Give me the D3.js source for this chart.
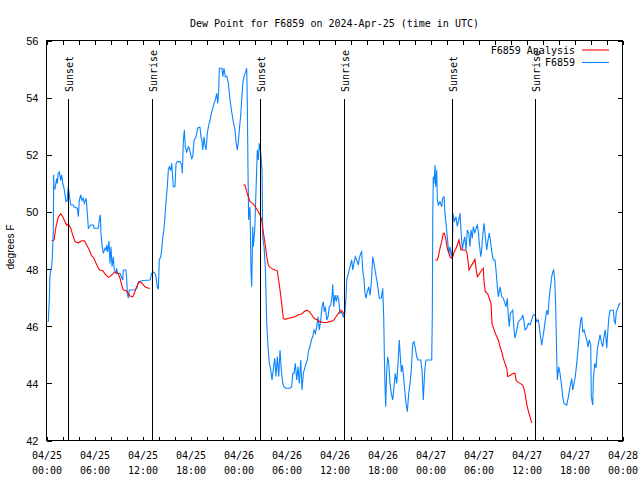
<!DOCTYPE html>
<html><head><meta charset="utf-8">
<script src="https://cdn.jsdelivr.net/npm/d3@7"></script>
<style>
html,body{margin:0;padding:0;background:#fff;}
svg{display:block;}
.mono{font-family:"DejaVu Sans Mono","Liberation Mono",monospace;font-size:10px;}
.sans{font-family:"Liberation Sans",Arial,sans-serif;}
</style></head>
<body>
<svg id="chart" width="640" height="480"></svg>
<script>
// ---- data (hours after 2024-04-25 00:00 UTC) ----
const title = "Dew Point for F6859 on 2024-Apr-25 (time in UTC)";
const yLabel = "degrees F";
const yTicks = [42, 44, 46, 48, 50, 52, 54, 56];
const seriesNames = ["F6859 Analysis", "F6859"];

const obsHours = [0.22,0.35,0.44,0.65,0.72,0.85,0.90,0.94,1.06,1.28,1.35,1.47,1.60,1.78,1.90,2.03,2.19,2.44,2.60,2.72,2.85,3.03,3.35,3.48,3.85,3.98,4.10,4.28,4.44,4.60,4.73,4.94,5.03,5.23,5.53,5.85,5.94,6.48,6.60,6.73,6.81,6.94,7.10,7.31,7.44,7.53,7.65,7.81,7.94,8.06,8.19,8.35,8.48,8.69,8.78,8.85,9.19,9.53,9.60,9.94,10.03,10.10,10.23,10.35,11.06,11.28,11.48,12.10,12.94,13.15,13.35,13.56,13.69,13.85,13.98,14.10,14.28,14.40,14.53,14.69,14.81,14.94,15.10,15.23,15.35,15.53,15.65,15.85,16.06,16.19,16.35,16.69,16.90,16.98,17.10,17.23,17.35,17.53,17.73,17.85,17.98,18.15,18.28,18.44,18.69,18.85,18.98,19.19,19.31,19.44,19.53,19.69,19.81,19.94,20.10,20.28,20.44,20.60,20.78,20.94,21.10,21.28,21.40,21.53,21.60,21.94,22.03,22.19,22.35,22.53,22.73,22.94,23.15,23.35,23.56,23.69,23.85,23.98,24.10,24.28,24.40,24.53,24.73,24.90,25.03,25.10,25.19,25.27,25.44,25.56,25.65,25.78,25.85,26.03,26.19,26.35,26.48,26.60,26.78,26.94,27.03,27.19,27.35,27.53,27.69,27.85,28.03,28.19,28.35,28.53,28.69,28.85,29.03,29.19,29.35,29.53,29.69,29.90,30.44,30.65,30.78,30.94,31.10,31.28,31.44,31.60,31.78,31.94,32.10,32.28,32.44,32.60,32.78,32.94,33.10,33.28,33.44,33.60,33.78,33.94,34.10,34.28,34.44,34.60,34.73,34.85,35.03,35.19,35.35,35.53,35.69,35.78,35.90,36.06,36.23,36.35,36.53,36.69,36.88,37.10,37.28,37.44,37.53,37.73,37.94,38.15,38.28,38.44,38.60,38.78,38.98,39.10,39.28,39.40,39.53,39.69,39.81,39.94,40.10,40.28,40.44,40.60,40.78,40.94,41.10,41.28,41.44,41.60,41.85,42.03,42.15,42.28,42.40,42.53,42.65,42.78,42.94,43.10,43.28,43.44,43.60,43.78,43.94,44.10,44.23,44.35,44.48,44.60,44.78,44.94,45.10,45.28,45.44,45.60,45.78,45.94,46.10,46.28,46.44,46.78,46.94,47.10,47.28,47.44,48.15,48.23,48.28,48.35,48.44,48.56,48.65,48.78,48.85,48.98,49.19,49.40,49.53,49.69,49.81,49.94,50.10,50.28,50.44,50.60,50.73,50.81,50.98,51.19,51.35,51.53,51.69,51.81,51.98,52.10,52.28,52.44,52.60,52.78,52.94,53.06,53.23,53.35,53.53,53.69,53.85,53.98,54.10,54.28,54.40,54.53,54.69,54.85,55.03,55.19,55.35,55.53,55.69,55.85,56.06,56.19,56.35,56.48,56.69,56.90,57.10,57.31,57.44,57.60,57.73,57.85,57.98,58.15,58.28,58.44,58.56,58.78,58.98,59.19,59.40,59.53,59.69,59.81,60.03,60.23,60.44,60.65,60.85,61.06,61.28,61.48,61.60,61.78,61.90,62.03,62.19,62.35,62.53,62.69,62.85,63.03,63.15,63.28,63.40,63.53,63.65,63.78,63.85,64.03,64.19,64.35,64.53,64.69,65.03,65.23,65.44,65.65,65.78,65.94,66.10,66.28,66.44,66.60,66.78,66.90,67.03,67.19,67.35,67.53,67.69,67.85,68.03,68.10,68.28,68.35,68.53,68.69,68.85,69.03,69.19,69.35,69.53,69.69,69.85,70.03,70.15,70.28,70.44,70.85,70.98,71.10,71.23,71.40,71.56,71.69];
const obsDew = [46.15,46.9,47.8,48.1,48.4,49.3,51.3,50.8,50.8,51.18,51.0,51.35,51.4,51.1,51.3,51.0,50.83,50.36,50.4,50.88,50.6,50.24,50.24,50.17,50.13,49.83,50.4,50.6,50.4,50.48,50.3,50.48,50.24,49.43,49.54,49.54,49.43,49.43,49.72,49.9,49.26,48.84,48.55,48.73,48.67,48.84,48.6,48.98,48.2,48.78,48.08,48.43,47.97,47.85,48.03,47.85,47.85,47.62,47.97,47.97,47.62,47.15,46.98,47.27,47.27,47.32,47.56,47.6,47.62,47.85,47.9,47.85,47.73,47.38,47.29,48.32,48.43,48.67,49.08,49.43,49.83,50.36,50.88,51.47,51.58,51.47,51.7,50.88,50.88,51.7,51.76,51.76,51.64,51.35,52.46,52.87,52.28,52.1,52.28,52.23,52.05,51.87,51.93,52.5,52.63,52.87,52.96,52.96,52.63,52.5,52.17,52.63,52.34,52.17,52.75,53.05,53.2,53.45,53.62,53.8,53.92,54.15,53.8,54.27,55.03,55.03,54.73,55.03,54.73,54.75,54.5,53.92,53.5,53.16,52.87,52.46,52.17,52.46,52.87,53.4,53.92,54.5,54.79,54.9,55.03,53.8,51.4,49.72,50.18,47.97,47.38,49.49,48.78,49.37,50.77,52.17,51.82,52.4,52.05,51.47,49.13,48.78,48.08,46.1,45.28,44.7,44.47,44.12,44.47,44.88,44.24,44.94,44.24,45.17,44.47,44.0,43.88,43.83,43.83,43.88,44.35,44.35,44.7,44.12,44.58,44.0,44.82,43.77,44.35,44.53,44.7,44.82,45.17,45.28,45.52,45.63,45.87,45.75,45.98,46.33,45.87,46.22,46.68,46.86,46.51,46.68,46.22,46.33,46.68,46.74,47.03,47.47,46.68,47.09,46.86,47.09,46.92,46.45,46.5,46.33,46.4,47.03,47.62,47.85,48.08,48.32,47.97,48.2,48.43,48.32,48.14,48.38,48.55,48.61,47.97,47.62,47.15,46.98,47.21,47.38,47.09,47.5,48.43,48.2,47.91,47.62,47.33,46.98,46.98,47.33,46.33,44.24,43.18,44.47,44.93,44.7,44.0,43.65,43.42,43.88,44.35,44.0,44.7,45.52,44.93,44.4,44.64,44.35,43.77,43.3,43.01,43.65,44.0,44.47,45.4,45.46,45.23,44.93,44.82,44.82,44.47,43.42,44.47,44.82,44.82,46.45,49.72,51.23,51.0,51.64,50.88,51.47,50.42,50.24,50.36,50.18,50.48,50.53,49.95,49.6,49.13,48.55,48.78,48.43,48.67,49.95,49.66,49.83,49.49,49.72,49.95,49.37,48.67,48.9,49.13,48.67,49.37,49.26,48.78,49.37,49.08,49.49,49.26,49.43,49.54,49.31,48.9,48.43,48.67,49.19,49.6,49.13,48.67,49.02,49.26,48.9,48.55,48.32,48.32,47.97,47.38,47.03,47.38,47.03,46.98,46.8,46.68,46.98,46.33,45.98,46.45,46.51,46.56,45.87,45.58,45.87,46.16,46.22,46.28,46.4,46.16,45.87,45.93,46.1,46.05,46.22,46.4,46.4,46.16,46.22,45.98,45.58,45.34,45.58,45.87,46.22,46.56,46.4,47.03,47.44,47.73,47.91,47.97,47.62,46.68,44.93,44.12,44.58,44.35,44.0,43.53,43.3,43.24,43.53,43.88,44.17,43.77,44.0,44.24,44.7,45.17,45.75,46.22,46.33,45.81,45.87,45.7,45.52,45.28,45.52,45.34,43.53,43.24,44.12,44.7,44.53,45.17,45.46,45.7,45.46,45.28,45.63,45.87,45.23,45.75,46.28,46.56,46.56,46.16,46.1,46.51,46.63,46.74,46.82];

// analysis: null marks a gap between runs
const anaHours = [0.65,0.94,1.19,1.48,1.78,2.03,2.31,2.53,2.73,3.03,3.28,3.56,3.98,4.40,4.73,5.03,5.35,5.65,5.94,6.19,6.48,6.69,7.03,7.31,7.53,7.73,8.03,8.35,8.69,8.98,9.19,9.40,9.60,9.94,10.23,10.44,10.78,10.98,11.19,11.48,11.69,12.03,12.31,12.73,12.94,
  13.5,
  24.60,24.81,25.03,25.23,25.44,25.78,26.06,26.35,26.69,26.90,27.03,27.19,27.35,27.53,27.73,27.94,28.35,28.85,28.98,29.19,29.40,29.60,29.81,30.23,30.65,31.06,31.48,31.90,32.19,32.53,32.85,33.15,33.44,33.85,34.19,34.60,35.03,35.35,35.85,36.19,36.48,36.78,37.03,37.22,
  40.0,
  48.56,48.85,48.98,49.19,49.40,49.60,49.73,49.90,50.03,50.15,50.31,50.44,50.60,50.78,50.98,51.19,51.35,51.56,51.69,51.81,52.31,52.53,52.65,52.81,53.03,53.28,53.56,53.69,53.85,54.10,54.35,54.60,54.69,54.85,55.15,55.35,55.56,55.69,55.94,56.19,56.48,56.69,56.90,57.10,57.31,57.53,57.65,57.81,58.03,58.35,58.56,58.69,58.85,59.19,59.53,59.73,59.94,60.10,60.31,60.53,60.65];
const anaDew = [48.99,49.02,49.49,49.83,49.93,49.83,49.66,49.54,49.58,49.43,49.19,48.96,48.92,48.99,48.99,48.84,48.67,48.46,48.38,48.2,48.03,47.97,47.94,47.83,47.76,47.71,47.76,47.85,47.91,47.83,47.68,47.44,47.27,47.25,47.15,47.06,47.03,47.15,47.33,47.5,47.56,47.47,47.38,47.33,47.33,
  null,
  50.94,50.94,50.71,50.53,50.36,50.3,50.2,50.07,49.9,49.72,49.43,49.13,48.84,48.43,48.14,48.06,47.99,47.94,47.68,47.27,46.8,46.28,46.24,46.28,46.3,46.33,46.4,46.43,46.51,46.56,46.51,46.4,46.28,46.22,46.16,46.13,46.13,46.16,46.19,46.33,46.45,46.56,46.5,46.4,
  null,
  48.32,48.32,48.43,48.73,48.96,49.25,49.25,49.08,48.84,48.67,48.55,48.43,48.38,48.43,48.61,48.73,48.84,49.02,48.84,48.67,48.67,48.61,48.38,47.97,48.08,48.2,48.34,48.03,47.73,47.83,47.94,48.03,47.56,47.21,47.13,46.98,46.8,46.1,45.87,45.69,45.52,45.28,45.11,44.88,44.7,44.53,44.24,44.26,44.29,44.35,44.35,44.12,44.06,44.0,43.94,43.77,43.42,43.18,42.95,42.74,42.62];

const eventHours = [2.75, 13.25, 26.75, 37.25, 50.75, 61.125];
const eventLabels = ["Sunset", "Sunrise", "Sunset", "Sunrise", "Sunset", "Sunrise"];

// ---- chart ----
const t0 = Date.UTC(2024, 3, 25);
const toDate = h => new Date(t0 + h * 3600e3);
const svg = d3.select("#chart");
const L = 46.5, R = 622.5, T = 40.5, B = 440.5;
const x = d3.scaleUtc().domain([toDate(0), toDate(72)]).range([L, R]);
const y = d3.scaleLinear().domain([42, 56]).range([B, T]);
const colAna = "#ff0000", colObs = "#0a84ff";

// title
svg.append("text").attr("class", "mono").attr("x", (L + R) / 2).attr("y", 27)
  .attr("text-anchor", "middle").text(title);

// axes (ticks inward)
const fmtDay = d3.utcFormat("%m/%d"), fmtTime = d3.utcFormat("%H:%M");
const gB = svg.append("g").attr("transform", `translate(0,${B})`)
  .call(d3.axisBottom(x).ticks(d3.utcHour.every(2)).tickSizeInner(-4).tickSizeOuter(0).tickFormat(() => ""));
const gT = svg.append("g").attr("transform", `translate(0,${T})`)
  .call(d3.axisTop(x).ticks(d3.utcHour.every(2)).tickSizeInner(-4).tickSizeOuter(0).tickFormat(() => ""));
const gL = svg.append("g").attr("transform", `translate(${L},0)`)
  .call(d3.axisLeft(y).tickValues(yTicks).tickSizeInner(-5).tickSizeOuter(0).tickPadding(8).tickFormat(d3.format("d")));
const gR = svg.append("g").attr("transform", `translate(${R},0)`)
  .call(d3.axisRight(y).tickValues(yTicks).tickSizeInner(-5).tickSizeOuter(0).tickFormat(() => ""));
[gB, gT, gL, gR].forEach(g => {
  g.select(".domain").remove();
  g.selectAll("line").attr("stroke", "#000").attr("shape-rendering", "crispEdges");
});
gL.selectAll("text").attr("class", "sans").style("font-size", "11px").attr("fill", "#000").attr("dy", "0.36em");

// x labels: two lines
const gX = svg.append("g").attr("transform", `translate(0,${B})`)
  .call(d3.axisBottom(x).ticks(d3.utcHour.every(6)).tickSize(0).tickFormat(() => ""));
gX.select(".domain").remove();
gX.selectAll(".tick text").each(function(d) {
  const t = d3.select(this).attr("class", "mono").attr("fill", "#000").attr("y", 0).attr("dy", null);
  t.append("tspan").attr("x", 0).attr("y", 18).text(fmtDay(d));
  t.append("tspan").attr("x", 0).attr("y", 33).text(fmtTime(d));
});

// y label
svg.append("text").attr("class", "sans").style("font-size", "10px")
  .attr("transform", "translate(14,247) rotate(-90)").attr("text-anchor", "middle").text(yLabel);

// border
svg.append("rect").attr("x", L).attr("y", T).attr("width", R - L).attr("height", B - T)
  .attr("fill", "none").attr("stroke", "#000").attr("shape-rendering", "crispEdges");

// series
const anaData = anaHours.map((h, i) => ({ t: toDate(h), v: anaDew[i] }));
const obsData = obsHours.map((h, i) => ({ t: toDate(h), v: obsDew[i] }));
const line = d3.line().defined(d => d.v != null).x(d => x(d.t)).y(d => y(d.v));
svg.append("path").datum(obsData).attr("d", line).attr("fill", "none")
  .attr("stroke", colObs).attr("stroke-width", 1.1);
svg.append("path").datum(anaData).attr("d", line).attr("fill", "none")
  .attr("stroke", colAna).attr("stroke-width", 1.1);

// sunrise / sunset markers
eventHours.forEach((h, i) => {
  const xe = Math.round(x(toDate(h)) - 0.5) + 0.5;
  svg.append("line").attr("x1", xe).attr("x2", xe).attr("y1", 99).attr("y2", B)
    .attr("stroke", "#000").attr("shape-rendering", "crispEdges");
  svg.append("text").attr("class", "mono").attr("transform", `translate(${xe + 4},92) rotate(-90)`)
    .attr("text-anchor", "start").text(eventLabels[i]);
});

// legend
const legend = [{ n: seriesNames[0], c: colAna, y: 50 }, { n: seriesNames[1], c: colObs, y: 62.5 }];
legend.forEach(e => {
  svg.append("text").attr("class", "mono").attr("x", 575).attr("y", e.y + 3.5)
    .attr("text-anchor", "end").text(e.n);
  svg.append("line").attr("x1", 582).attr("x2", 609).attr("y1", e.y).attr("y2", e.y)
    .attr("stroke", e.c).attr("stroke-width", 1.1);
});
</script>
</body></html>
